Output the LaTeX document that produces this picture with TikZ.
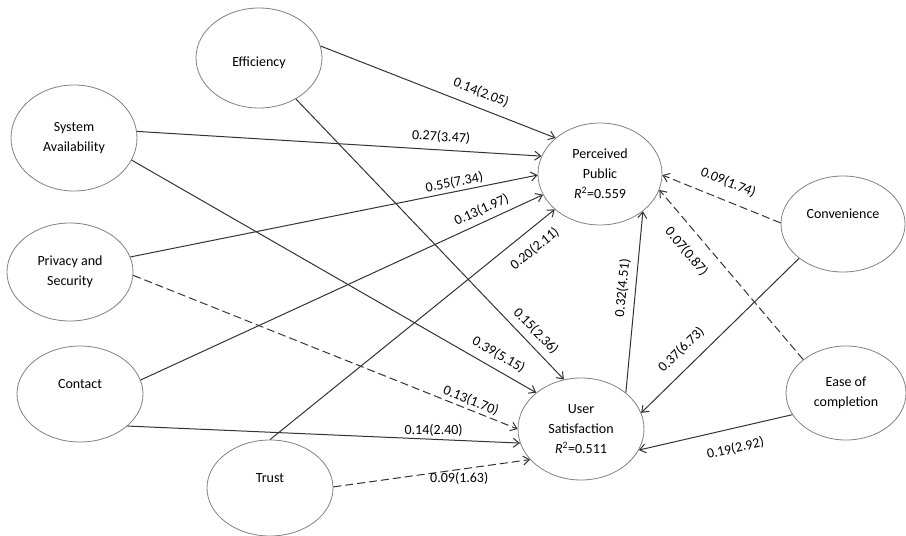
\documentclass[tikz,border=0pt]{standalone}
\usepackage{fontspec}
\setmainfont{Carlito}
\usetikzlibrary{shapes.geometric,arrows.meta}
\definecolor{edgegray}{HTML}{333333}
\definecolor{ringgray}{HTML}{808080}
\tikzset{
  construct/.style={ellipse, draw=ringgray, line width=0.8pt, minimum width=126pt,
    minimum height=100pt, inner sep=0pt, align=center, font=\fontsize{14}{20}\selectfont},
  sig/.style={draw=edgegray, line width=1pt, -{Straight Barb[length=6pt,width=9pt]}},
  nonsig/.style={sig, dash pattern=on 8pt off 4pt},
  coef/.style={font=\fontsize{14}{16}\selectfont, inner sep=2.5pt}
}
\begin{document}
\begin{tikzpicture}[x=1pt,y=-1pt]
\useasboundingbox (0,0) rectangle (906,536);

% Exogenous constructs
\node[construct] (eff) at (259,58) {~\\Efficiency};
\node[construct, minimum height=106pt] (sa) at (74,138) {System\\Availability};
\node[construct, minimum height=98pt] (ps) at (70,272) {Privacy and\\Security};
\node[construct, minimum height=96pt] (con) at (80,394) {Contact\\~};
\node[construct, minimum height=96pt] (tru) at (270,488) {Trust\\~};
\node[construct, minimum height=96pt, minimum width=124pt] (cv) at (843,224) {Convenience\\~};
\node[construct, minimum height=94pt, minimum width=120pt] (ec) at (846,393) {Ease of\\completion};

% Endogenous constructs
\node[construct, minimum width=124pt, minimum height=102pt] (pp) at (600,174)
  {Perceived\\Public\\{\itshape R}\textsuperscript{2}=0.559};
\node[construct, minimum height=102pt] (us) at (581,429)
  {User\\Satisfaction\\{\itshape R}\textsuperscript{2}=0.511};

% Paths into Perceived Public
\draw[sig] (eff.11) -- node[coef, sloped, above=6pt, pos=0.66] {0.14(2.05)} (pp.141);
\draw[sig] (sa.6) -- node[coef, sloped, above=4pt, pos=0.75] {0.27(3.47)} (pp.163);
\draw[sig] (ps.14) -- node[coef, sloped, above, pos=0.80] {0.55(7.34)} (pp.181);
\draw[sig] (con.13) -- node[coef, sloped, above=3pt, pos=0.86] {0.13(1.97)} (pp.200);
\draw[sig] (tru.90) -- node[coef, sloped, below=9pt, pos=0.89] {0.20(2.11)} (pp.218);
\draw[sig] (us.39) -- node[coef, sloped, above=4pt, pos=0.57] {0.32(4.51)} (pp.319);
\draw[nonsig] (cv.179) -- node[coef, sloped, above=9pt, pos=0.50] {0.09(1.74)} (pp.359);
\draw[nonsig] (ec.142) -- node[coef, sloped, below=10pt, pos=0.71] {0.07(0.87)} (pp.345);

% Paths into User Satisfaction
\draw[sig] (eff.312) -- node[coef, sloped, above=4pt, pos=0.86] {0.15(2.36)} (us.109);
\draw[sig] (sa.339) -- node[coef, sloped, above=5pt, pos=0.89] {0.39(5.15)} (us.141);
\draw[nonsig] (ps.357) -- node[coef, sloped, above, pos=0.87] {0.13(1.70)} (us.180);
\draw[sig] (con.326) -- node[coef, above, pos=0.78] {0.14(2.40)} (us.193);
\draw[nonsig] (tru.1) -- node[coef, below, pos=0.64] {0.09(1.63)} (us.211);
\draw[sig] (cv.218) -- node[coef, sloped, above=8pt, pos=0.67] {0.37(6.73)} (us.15);
\draw[sig] (ec.202) -- node[coef, sloped, below=11pt, pos=0.40] {0.19(2.92)} (us.340);
\end{tikzpicture}
\end{document}
